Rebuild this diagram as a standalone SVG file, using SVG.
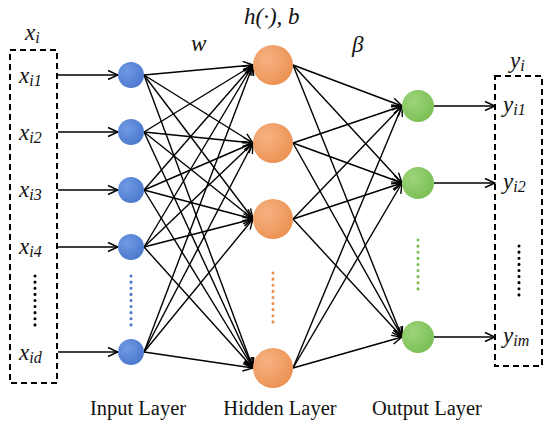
<svg xmlns="http://www.w3.org/2000/svg" width="550" height="428" viewBox="0 0 550 428">
<style>
.box{fill:none;stroke:#000;stroke-width:2;stroke-dasharray:6,4}
.ln{stroke:#000;stroke-width:1.4;fill:none}
.math{font-family:"Liberation Serif","DejaVu Serif",serif;font-style:italic;font-size:23px;fill:#111}
.sub{font-size:16px}
.lab{font-family:"Liberation Serif","DejaVu Serif",serif;font-size:20.5px;fill:#111;text-anchor:middle}
.dots{stroke-width:3;stroke-dasharray:0.1,6;stroke-linecap:round;fill:none}
</style>
<defs>
<marker id="arr" markerUnits="userSpaceOnUse" markerWidth="12" markerHeight="12" refX="11" refY="6" orient="auto">
<path d="M1,1.5 L11,6 L1,10.5" fill="none" stroke="#000" stroke-width="1.4"/>
</marker>
<radialGradient id="gb" cx="35%" cy="35%" r="75%"><stop offset="0" stop-color="#6f9ae4"/><stop offset="1" stop-color="#4a76cc"/></radialGradient>
<radialGradient id="go" cx="35%" cy="35%" r="75%"><stop offset="0" stop-color="#f7b383"/><stop offset="1" stop-color="#eb8f4f"/></radialGradient>
<radialGradient id="gg" cx="35%" cy="35%" r="75%"><stop offset="0" stop-color="#9dd57a"/><stop offset="1" stop-color="#78bd52"/></radialGradient>
</defs>

<g id="input-box">
<rect class="box" x="10" y="50" width="47" height="333"/>
<text class="math" x="25" y="40">x<tspan class="sub" dy="3">i</tspan></text>
<text class="math" x="19" y="83">x<tspan class="sub" dy="3">i1</tspan></text>
<text class="math" x="19" y="140">x<tspan class="sub" dy="3">i2</tspan></text>
<text class="math" x="19" y="197">x<tspan class="sub" dy="3">i3</tspan></text>
<text class="math" x="19" y="254">x<tspan class="sub" dy="3">i4</tspan></text>
<text class="math" x="19" y="360">x<tspan class="sub" dy="3">id</tspan></text>
<line class="dots" x1="35" y1="276" x2="35" y2="325" stroke="#000"/>
</g>

<g id="output-box">
<rect class="box" x="495" y="76" width="47" height="290"/>
<text class="math" x="510" y="68">y<tspan class="sub" dy="3">i</tspan></text>
<text class="math" x="503" y="112">y<tspan class="sub" dy="3">i1</tspan></text>
<text class="math" x="503" y="189">y<tspan class="sub" dy="3">i2</tspan></text>
<text class="math" x="503" y="343">y<tspan class="sub" dy="3">im</tspan></text>
<line class="dots" x1="519" y1="246" x2="519" y2="295" stroke="#000"/>
</g>

<g id="connectors">
<line class="ln" x1="58" y1="75" x2="118" y2="75" marker-end="url(#arr)"/>
<line class="ln" x1="58" y1="132" x2="118" y2="132" marker-end="url(#arr)"/>
<line class="ln" x1="58" y1="190" x2="118" y2="190" marker-end="url(#arr)"/>
<line class="ln" x1="58" y1="247" x2="118" y2="247" marker-end="url(#arr)"/>
<line class="ln" x1="58" y1="352" x2="118" y2="352" marker-end="url(#arr)"/>

<line class="ln" x1="144" y1="75" x2="253" y2="65" marker-end="url(#arr)"/>
<line class="ln" x1="144" y1="75" x2="253" y2="143" marker-end="url(#arr)"/>
<line class="ln" x1="144" y1="75" x2="253" y2="219" marker-end="url(#arr)"/>
<line class="ln" x1="144" y1="75" x2="253" y2="368" marker-end="url(#arr)"/>
<line class="ln" x1="144" y1="132" x2="253" y2="65" marker-end="url(#arr)"/>
<line class="ln" x1="144" y1="132" x2="253" y2="143" marker-end="url(#arr)"/>
<line class="ln" x1="144" y1="132" x2="253" y2="219" marker-end="url(#arr)"/>
<line class="ln" x1="144" y1="132" x2="253" y2="368" marker-end="url(#arr)"/>
<line class="ln" x1="144" y1="190" x2="253" y2="65" marker-end="url(#arr)"/>
<line class="ln" x1="144" y1="190" x2="253" y2="143" marker-end="url(#arr)"/>
<line class="ln" x1="144" y1="190" x2="253" y2="219" marker-end="url(#arr)"/>
<line class="ln" x1="144" y1="190" x2="253" y2="368" marker-end="url(#arr)"/>
<line class="ln" x1="144" y1="247" x2="253" y2="65" marker-end="url(#arr)"/>
<line class="ln" x1="144" y1="247" x2="253" y2="143" marker-end="url(#arr)"/>
<line class="ln" x1="144" y1="247" x2="253" y2="219" marker-end="url(#arr)"/>
<line class="ln" x1="144" y1="247" x2="253" y2="368" marker-end="url(#arr)"/>
<line class="ln" x1="144" y1="352" x2="253" y2="65" marker-end="url(#arr)"/>
<line class="ln" x1="144" y1="352" x2="253" y2="143" marker-end="url(#arr)"/>
<line class="ln" x1="144" y1="352" x2="253" y2="219" marker-end="url(#arr)"/>
<line class="ln" x1="144" y1="352" x2="253" y2="368" marker-end="url(#arr)"/>

<line class="ln" x1="293" y1="65" x2="402" y2="106" marker-end="url(#arr)"/>
<line class="ln" x1="293" y1="65" x2="402" y2="183" marker-end="url(#arr)"/>
<line class="ln" x1="293" y1="65" x2="402" y2="337" marker-end="url(#arr)"/>
<line class="ln" x1="293" y1="143" x2="402" y2="106" marker-end="url(#arr)"/>
<line class="ln" x1="293" y1="143" x2="402" y2="183" marker-end="url(#arr)"/>
<line class="ln" x1="293" y1="143" x2="402" y2="337" marker-end="url(#arr)"/>
<line class="ln" x1="293" y1="219" x2="402" y2="106" marker-end="url(#arr)"/>
<line class="ln" x1="293" y1="219" x2="402" y2="183" marker-end="url(#arr)"/>
<line class="ln" x1="293" y1="219" x2="402" y2="337" marker-end="url(#arr)"/>
<line class="ln" x1="293" y1="368" x2="402" y2="106" marker-end="url(#arr)"/>
<line class="ln" x1="293" y1="368" x2="402" y2="183" marker-end="url(#arr)"/>
<line class="ln" x1="293" y1="368" x2="402" y2="337" marker-end="url(#arr)"/>

<line class="ln" x1="434" y1="106" x2="495" y2="106" marker-end="url(#arr)"/>
<line class="ln" x1="434" y1="183" x2="495" y2="183" marker-end="url(#arr)"/>
<line class="ln" x1="434" y1="337" x2="495" y2="337" marker-end="url(#arr)"/>
</g>

<g id="input-layer">
<circle cx="131" cy="75" r="13" fill="url(#gb)"/>
<circle cx="131" cy="132" r="13" fill="url(#gb)"/>
<circle cx="131" cy="190" r="13" fill="url(#gb)"/>
<circle cx="131" cy="247" r="13" fill="url(#gb)"/>
<circle cx="131" cy="352" r="13" fill="url(#gb)"/>
<line class="dots" x1="131" y1="276" x2="131" y2="325" stroke="#4a76cc"/>
<text class="lab" x="138" y="415">Input Layer</text>
</g>

<g id="hidden-layer">
<circle cx="273" cy="65" r="20" fill="url(#go)"/>
<circle cx="273" cy="143" r="20" fill="url(#go)"/>
<circle cx="273" cy="219" r="20" fill="url(#go)"/>
<circle cx="273" cy="368" r="20" fill="url(#go)"/>
<line class="dots" x1="273" y1="273" x2="273" y2="322" stroke="#eb8f4f"/>
<text class="lab" x="280" y="415">Hidden Layer</text>
</g>

<g id="output-layer">
<circle cx="418" cy="106" r="16" fill="url(#gg)"/>
<circle cx="418" cy="183" r="16" fill="url(#gg)"/>
<circle cx="418" cy="337" r="16" fill="url(#gg)"/>
<line class="dots" x1="418" y1="240" x2="418" y2="289" stroke="#78bd52"/>
<text class="lab" x="427" y="415">Output Layer</text>
</g>

<g id="weights">
<text class="math" x="191" y="51">w</text>
<text class="math" x="244" y="24">h(·), b</text>
<text class="math" x="352" y="52">β</text>
</g>
</svg>
